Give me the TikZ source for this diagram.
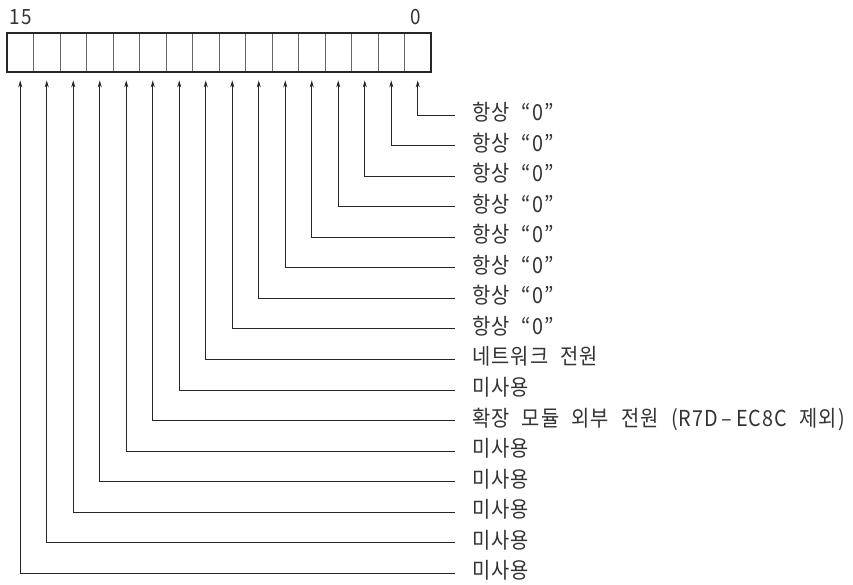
\documentclass[tikz,border=0pt]{standalone}
\usepackage{fontspec}
\setmainfont{Noto Sans CJK KR}[FakeStretch=0.9, WordSpace=2.2, LetterSpace=5]
\usetikzlibrary{arrows.meta}
\begin{document}
\begin{tikzpicture}[x=1pt,y=-1pt,
  cell/.style={draw=black!60, line width=0.8pt, minimum width=26.5pt, minimum height=39pt, inner sep=0pt},
  lab/.style={anchor=west, inner sep=0pt, text=black!80, font=\fontsize{22}{24}\selectfont, text height=15pt, text depth=4pt},
  bitnum/.style={inner sep=0pt, text=black!80, font=\fontsize{21}{22}\selectfont},
  conn/.style={draw=black!85, line width=0.8pt, -{Stealth[length=7pt,width=4pt]}}]
\useasboundingbox (0,0) rectangle (853,584);
\foreach \b in {0,...,15} {
  \pgfmathsetmacro\cx{20.25+26.5*(15-\b)}
  \node[cell] (c\b) at (\cx,52.5) {};
}
\draw[line width=2pt, black!85] (c15.north west) rectangle (c0.south east);
\node[bitnum] (n15) at (20.5,17.5) {15};
\node[bitnum] (n0) at (416,17.5) {0};
\foreach \b in {0,...,7} {
  \node[lab] (l\b) at (472,115+30.55*\b) {항상 “0”};
}
\node[lab] (l8) at (472,115+30.55*8) {네트워크 전원};
\node[lab] (l9) at (472,115+30.55*9) {미사용};
\node[lab] (l10) at (472,115+30.55*10) {확장 모듈 외부 전원 (R7D\,–\,EC8C 제외)};
\foreach \b in {11,...,15} {
  \node[lab] (l\b) at (472,115+30.55*\b) {미사용};
}
\foreach \b in {0,...,15} {
  \draw[conn] ([xshift=-17pt]l\b.west) -| ([yshift=-8pt]c\b.south);
}
\end{tikzpicture}
\end{document}
